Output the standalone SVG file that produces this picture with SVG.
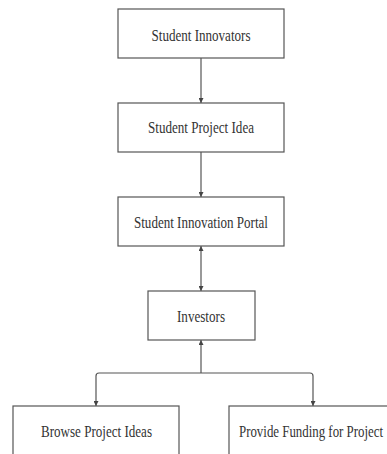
<svg xmlns="http://www.w3.org/2000/svg" width="387" height="454" viewBox="0 0 387 454">
<style>
.box{fill:#fff;stroke:#555;stroke-width:1.2}
.lbl{font-family:"Liberation Serif","Times New Roman",serif;font-size:16px;fill:#333;text-anchor:middle}
.con{fill:none;stroke:#555;stroke-width:1.2}
</style>
<defs>
<marker id="ah" viewBox="0 0 10 10" refX="10" refY="5" markerWidth="5" markerHeight="5" orient="auto-start-reverse" markerUnits="userSpaceOnUse">
<path d="M0,0 L10,5 L0,10 Z" fill="#444"/>
</marker>
</defs>
<rect width="387" height="454" fill="#fff"/>
<g id="connectors">
<line class="con" x1="201" y1="58" x2="201" y2="103" marker-end="url(#ah)"/>
<line class="con" x1="201" y1="152" x2="201" y2="197" marker-end="url(#ah)"/>
<line class="con" x1="201" y1="246" x2="201" y2="291" marker-start="url(#ah)" marker-end="url(#ah)"/>
<line class="con" x1="201" y1="373" x2="201" y2="340" marker-end="url(#ah)"/>
<path class="con" d="M201,373 H99 Q96,373 96,376 V406" marker-end="url(#ah)"/>
<path class="con" d="M201,373 H310 Q313,373 313,376 V406" marker-end="url(#ah)"/>
</g>
<g id="student-innovators">
<rect class="box" x="118" y="9" width="166" height="49"/>
<text class="lbl" x="201" y="41" textLength="99" lengthAdjust="spacingAndGlyphs">Student Innovators</text>
</g>
<g id="student-project-idea">
<rect class="box" x="118" y="103" width="166" height="49"/>
<text class="lbl" x="201" y="133" textLength="106" lengthAdjust="spacingAndGlyphs">Student Project Idea</text>
</g>
<g id="student-innovation-portal">
<rect class="box" x="118" y="197" width="166" height="49"/>
<text class="lbl" x="201" y="228" textLength="134" lengthAdjust="spacingAndGlyphs">Student Innovation Portal</text>
</g>
<g id="investors">
<rect class="box" x="148" y="291" width="107" height="49"/>
<text class="lbl" x="201" y="322" textLength="48" lengthAdjust="spacingAndGlyphs">Investors</text>
</g>
<g id="browse-project-ideas">
<rect class="box" x="13" y="406" width="166" height="60"/>
<text class="lbl" x="96.5" y="437" textLength="111" lengthAdjust="spacingAndGlyphs">Browse Project Ideas</text>
</g>
<g id="provide-funding">
<rect class="box" x="229" y="406" width="168" height="60"/>
<text class="lbl" x="311" y="437" textLength="144" lengthAdjust="spacingAndGlyphs">Provide Funding for Project</text>
</g>
</svg>
